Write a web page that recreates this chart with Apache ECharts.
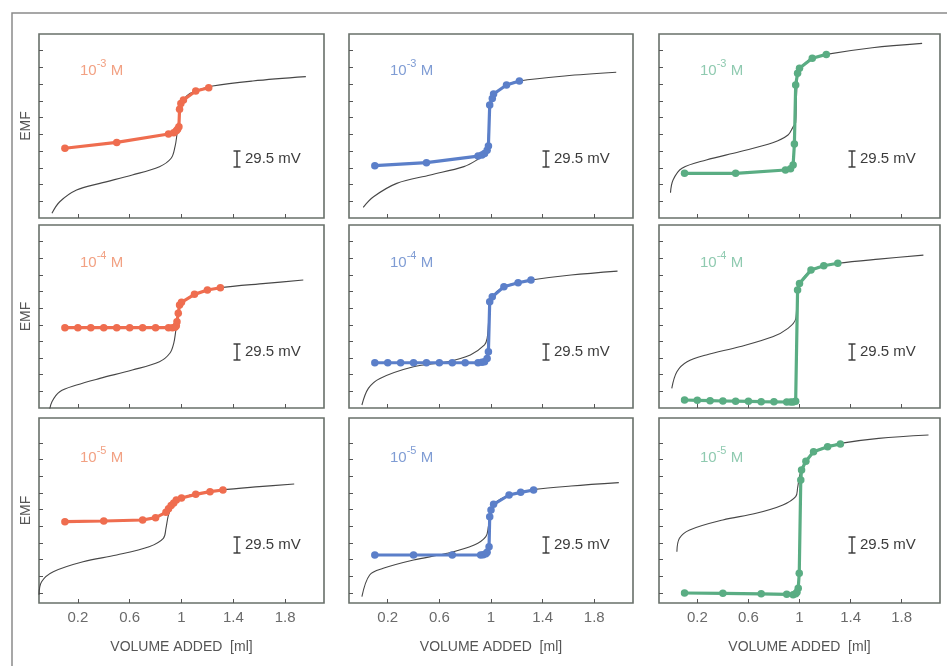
<!DOCTYPE html>
<html><head><meta charset="utf-8">
<script src="https://cdn.jsdelivr.net/npm/echarts@6/dist/echarts.min.js"></script>
<style>html,body{margin:0;padding:0;background:#fff}#c{width:947px;height:666px}</style>
</head><body><div id="c"></div><script>
// ---- tick labels / categories ----
const volumeTicks = [0.2, 0.6, 1, 1.4, 1.8];
const emfTicks = [1, 2, 3, 4, 5, 6, 7, 8, 9, 10];
const concLabels = ['-3', '-4', '-5'];
const scaleText = '29.5 mV';
const xName = 'VOLUME ADDED  [ml]';
const yName = 'EMF';

// ---- theoretical curves (volume ml, EMF in 29.5 mV units) ----
const orange_1e3_theory = [[0.0,0.28],[0.06,0.97],[0.19,1.67],[0.37,2.07],[0.62,2.57],[0.83,3.07],[0.92,3.57],[0.95,4.26],[0.965,5.0],[0.975,5.6],[0.985,6.3],[1.0,6.85],[1.04,7.3],[1.11,7.6],[1.24,7.89],[1.55,8.19],[1.96,8.45]];
const blue_1e3_theory   = [[0.01,0.64],[0.09,1.27],[0.27,2.07],[0.53,2.57],[0.79,3.07],[0.89,3.47],[0.94,3.8],[0.97,4.2],[0.98,5.0],[0.99,6.3],[1.0,6.9],[1.03,7.4],[1.12,7.95],[1.22,8.19],[1.57,8.49],[1.97,8.71]];
const green_1e3_theory  = [[-0.01,1.51],[0.01,2.27],[0.08,2.97],[0.27,3.47],[0.53,3.96],[0.79,4.5],[0.91,4.96],[0.95,5.45],[0.97,5.7],[0.975,7.0],[0.985,8.4],[1.0,8.9],[1.05,9.3],[1.1,9.55],[1.21,9.78],[1.57,10.18],[1.96,10.44]];
const orange_1e4_theory = [[-0.02,-0.2],[0.0,0.38],[0.06,0.98],[0.19,1.38],[0.37,1.78],[0.62,2.28],[0.83,2.78],[0.91,3.29],[0.94,3.89],[0.955,4.6],[0.965,5.2],[0.975,5.7],[0.99,6.2],[1.02,6.45],[1.1,6.83],[1.2,7.09],[1.29,7.23],[1.65,7.49],[1.94,7.69]];
const blue_1e4_theory   = [[0.0,0.18],[0.05,1.18],[0.14,1.78],[0.4,2.48],[0.66,2.78],[0.84,3.19],[0.95,3.79],[0.97,4.19],[0.98,5.0],[0.99,6.2],[1.01,6.7],[1.1,7.29],[1.21,7.53],[1.31,7.69],[1.62,7.99],[1.98,8.23]];
const green_1e4_theory  = [[0.0,1.18],[0.04,2.18],[0.12,2.78],[0.27,3.19],[0.53,3.68],[0.79,4.28],[0.91,4.79],[0.97,5.35],[0.98,6.5],[0.99,7.1],[1.0,7.5],[1.09,8.29],[1.19,8.55],[1.3,8.7],[1.62,8.95],[1.97,9.19]];
const orange_1e5_theory = [[-0.1,0.9],[-0.08,1.68],[0.01,2.28],[0.24,2.88],[0.5,3.28],[0.75,3.78],[0.86,4.28],[0.88,4.88],[0.9,5.7],[0.93,6.2],[0.97,6.55],[1.02,6.75],[1.11,6.95],[1.31,7.18],[1.6,7.38],[1.87,7.54]];
const blue_1e5_theory   = [[0.0,0.78],[0.06,2.08],[0.165,2.48],[0.4,2.98],[0.66,3.38],[0.87,3.88],[0.96,4.38],[0.98,5.0],[0.99,5.6],[1.0,6.0],[1.03,6.4],[1.14,6.88],[1.23,7.04],[1.34,7.22],[1.62,7.42],[1.99,7.62]];
const green_1e5_theory  = [[0.04,3.48],[0.06,4.28],[0.14,4.78],[0.4,5.38],[0.66,5.78],[0.87,6.28],[0.97,6.78],[0.985,7.3],[1.0,8.0],[1.02,8.5],[1.1,9.4],[1.2,9.75],[1.32,9.98],[1.62,10.28],[2.01,10.48]];

// ---- measured titration points ----
const orange_1e3_data = [[0.1,4.17],[0.5,4.52],[0.9,5.02],[0.94,5.1],[0.96,5.22],[0.97,5.3],[0.98,5.45],[0.985,6.5],[0.995,6.85],[1.015,7.05],[1.11,7.59],[1.21,7.79]];
const blue_1e3_data   = [[0.1,3.13],[0.5,3.31],[0.9,3.7],[0.93,3.77],[0.95,3.85],[0.97,4.05],[0.98,4.3],[0.99,6.75],[1.01,7.15],[1.02,7.41],[1.12,7.95],[1.22,8.19]];
const green_1e3_data  = [[0.1,2.67],[0.5,2.67],[0.89,2.87],[0.93,2.95],[0.95,3.17],[0.96,4.42],[0.97,7.95],[0.985,8.65],[1.0,8.95],[1.1,9.55],[1.21,9.78]];
const orange_1e4_data = [[0.1,4.83],[0.2,4.83],[0.3,4.83],[0.4,4.83],[0.5,4.83],[0.6,4.83],[0.7,4.83],[0.8,4.83],[0.9,4.83],[0.93,4.83],[0.95,4.85],[0.96,4.95],[0.965,5.19],[0.975,5.69],[0.985,6.19],[1.0,6.35],[1.1,6.83],[1.2,7.09],[1.3,7.23]];
const blue_1e4_data   = [[0.1,2.72],[0.2,2.72],[0.3,2.72],[0.4,2.72],[0.5,2.72],[0.6,2.72],[0.7,2.72],[0.8,2.72],[0.9,2.72],[0.93,2.75],[0.95,2.78],[0.97,2.98],[0.98,3.38],[0.99,6.39],[1.01,6.69],[1.1,7.29],[1.21,7.53],[1.31,7.69]];
const green_1e4_data  = [[0.1,0.48],[0.2,0.46],[0.3,0.44],[0.4,0.42],[0.5,0.41],[0.6,0.4],[0.7,0.38],[0.8,0.37],[0.9,0.36],[0.93,0.36],[0.95,0.36],[0.97,0.4],[0.985,7.09],[1.0,7.49],[1.09,8.29],[1.19,8.55],[1.3,8.7]];
const orange_1e5_data = [[0.1,5.28],[0.4,5.32],[0.7,5.38],[0.8,5.52],[0.88,5.84],[0.9,6.05],[0.92,6.25],[0.94,6.4],[0.96,6.58],[1.0,6.7],[1.11,6.92],[1.22,7.08],[1.32,7.18]];
const blue_1e5_data   = [[0.1,3.28],[0.4,3.28],[0.7,3.28],[0.92,3.28],[0.94,3.3],[0.96,3.35],[0.97,3.45],[0.985,3.78],[0.99,5.58],[1.0,5.98],[1.02,6.32],[1.14,6.88],[1.23,7.04],[1.33,7.18]];
const green_1e5_data  = [[0.1,1.0],[0.4,0.98],[0.7,0.95],[0.9,0.92],[0.95,0.9],[0.97,0.95],[0.98,1.05],[0.99,1.28],[0.998,2.18],[1.01,7.78],[1.016,8.38],[1.05,8.9],[1.11,9.48],[1.22,9.78],[1.32,9.94]];

// ---- styling / layout ----
const FONT = '"Liberation Sans", Arial, Helvetica, sans-serif';
const colColors = ['#ef6d4f', '#5b7fc9', '#5aad83'];
const colLabelColors = ['#f2a183', '#7f9cd4', '#8fcab0'];
const colLeft = [39, 349, 659];
const colWidth = [285, 284, 281];
const rowTop = [34, 225, 418];
const rowHeight = [184, 183, 185];
const rowYRange = [[0, 11], [0, 11], [0.4, 11.5]];
const barOffX = [198, 197, 193];
const barOffY = [125, 127, 127];
const labelOffY = [34, 35, 37];

const theory = [
  [orange_1e3_theory, blue_1e3_theory, green_1e3_theory],
  [orange_1e4_theory, blue_1e4_theory, green_1e4_theory],
  [orange_1e5_theory, blue_1e5_theory, green_1e5_theory]
];
const measured = [
  [orange_1e3_data, blue_1e3_data, green_1e3_data],
  [orange_1e4_data, blue_1e4_data, green_1e4_data],
  [orange_1e5_data, blue_1e5_data, green_1e5_data]
];

const grids = [], xAxes = [], yAxes = [], series = [], graphics = [];
for (let r = 0; r < 3; r++) {
  for (let c = 0; c < 3; c++) {
    const i = r * 3 + c;
    grids.push({left: colLeft[c], top: rowTop[r], width: colWidth[c], height: rowHeight[r],
      show: true, borderColor: '#68706a', borderWidth: 1.6, backgroundColor: 'transparent', containLabel: false});
    xAxes.push({type: 'value', gridIndex: i, min: -0.1, max: 2.1, position: 'bottom',
      axisLine: {show: false, onZero: false}, splitLine: {show: false},
      axisTick: {show: true, inside: true, length: 4, customValues: volumeTicks, lineStyle: {color: '#555', width: 1}},
      axisLabel: {show: r === 2, customValues: volumeTicks, color: '#6a6a6a', fontSize: 15, margin: 7, fontFamily: FONT},
      name: r === 2 ? xName : '', nameLocation: 'middle', nameGap: 37,
      nameTextStyle: {color: '#555', fontSize: 14, fontFamily: FONT}});
    yAxes.push({type: 'value', gridIndex: i, min: rowYRange[r][0], max: rowYRange[r][1], position: 'left',
      axisLine: {show: false, onZero: false}, splitLine: {show: false},
      axisTick: {show: true, inside: true, length: 4, customValues: emfTicks, lineStyle: {color: '#555', width: 1}},
      axisLabel: {show: false},
      name: c === 0 ? yName : '', nameLocation: 'middle', nameGap: 6, nameRotate: 90,
      nameTextStyle: {color: '#555', fontSize: 14, fontFamily: FONT}});
    series.push({type: 'line', xAxisIndex: i, yAxisIndex: i, data: theory[r][c],
      showSymbol: false, smooth: 0.35, silent: true, z: 2,
      lineStyle: {color: '#474747', width: 1.1}});
    series.push({type: 'line', xAxisIndex: i, yAxisIndex: i, data: measured[r][c],
      symbol: 'circle', symbolSize: 7.5, z: 3,
      lineStyle: {color: colColors[c], width: 3.2}, itemStyle: {color: colColors[c]}});
    // concentration label
    graphics.push({type: 'text', x: colLeft[c] + 41, y: rowTop[r] + labelOffY[r],
      style: {text: '{b|10}{s|' + concLabels[r] + '}{b| M}', verticalAlign: 'middle', textVerticalAlign: 'middle',
        rich: {
          b: {fontSize: 15, fill: colLabelColors[c], fontFamily: FONT, lineHeight: 20, verticalAlign: 'bottom'},
          s: {fontSize: 11, fill: colLabelColors[c], fontFamily: FONT, lineHeight: 20, verticalAlign: 'top'}
        }}});
    // 29.5 mV scale bar
    const bx = colLeft[c] + barOffX[c], by = rowTop[r] + barOffY[r];
    graphics.push({type: 'line', shape: {x1: bx, y1: by - 8, x2: bx, y2: by + 8}, style: {stroke: '#333', lineWidth: 1.4}});
    graphics.push({type: 'line', shape: {x1: bx - 3.5, y1: by - 8, x2: bx + 3.5, y2: by - 8}, style: {stroke: '#333', lineWidth: 1.4}});
    graphics.push({type: 'line', shape: {x1: bx - 3.5, y1: by + 8, x2: bx + 3.5, y2: by + 8}, style: {stroke: '#333', lineWidth: 1.4}});
    graphics.push({type: 'text', x: bx + 8, y: by, style: {text: scaleText, fill: '#3c3c3c', fontSize: 15, fontFamily: FONT,
      verticalAlign: 'middle', textVerticalAlign: 'middle'}});
  }
}
// outer page frame
graphics.push({type: 'polyline', shape: {points: [[12, 666], [12, 13], [947, 13]]}, style: {stroke: '#8a8a8a', lineWidth: 1.5, fill: null}});

const chart = echarts.init(document.getElementById('c'), null, {renderer: 'canvas'});
chart.setOption({
  animation: false,
  backgroundColor: '#ffffff',
  textStyle: {fontFamily: FONT},
  grid: grids, xAxis: xAxes, yAxis: yAxes, series: series, graphic: graphics
});
</script></body></html>
